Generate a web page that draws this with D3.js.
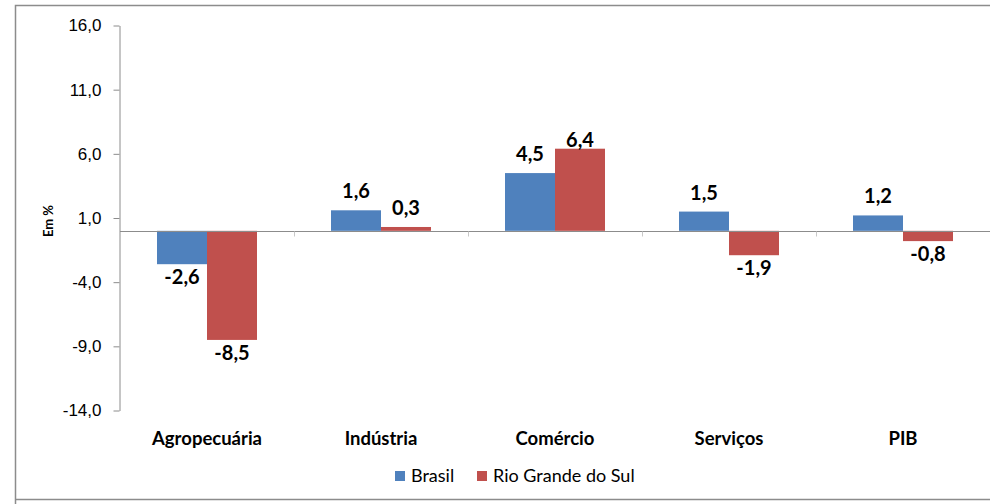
<!DOCTYPE html>
<html>
<head>
<meta charset="utf-8">
<script src="https://cdn.jsdelivr.net/npm/d3@7"></script>
<style>
  body { margin: 0; background: #fff; }
  svg { font-family: Lato, 'Open Sans', sans-serif; }
</style>
</head>
<body>
<svg id="chart" width="990" height="504"></svg>
<script>
var categories = ['Agropecuária', 'Indústria', 'Comércio', 'Serviços', 'PIB'];
var seriesNames = ['Brasil', 'Rio Grande do Sul'];
var brasil = [-2.6, 1.6, 4.5, 1.5, 1.2];
var rioGrande = [-8.5, 0.3, 6.4, -1.9, -0.8];
var yTicks = [16, 11, 6, 1, -4, -9, -14];
var colors = ['#4F81BD', '#C0504D'];

var svg = d3.select('#chart');
// comma decimals, plain hyphen for minus
var fmt = d => d.toFixed(1).replace('.', ',');

// outer frame
svg.append('path')
  .attr('d', 'M15.5,504 V5.5 H990 M15.5,499.5 H990')
  .attr('fill', 'none')
  .attr('stroke', '#8c8c8c')
  .attr('stroke-width', 1.5);

var x0 = d3.scaleBand()
  .domain(categories)
  .range([120, 990])
  .paddingInner(74 / 174)
  .paddingOuter(37 / 174);

var x1 = d3.scaleBand()
  .domain(seriesNames)
  .range([0, x0.bandwidth()]);

var y = d3.scaleLinear()
  .domain([-14, 16])
  .range([410.5, 25.5]);

// y axis
var yAxis = d3.axisLeft(y).tickValues(yTicks).tickFormat(fmt).tickSize(6).tickSizeOuter(0);
var gy = svg.append('g').attr('transform', 'translate(119.5,0)').call(yAxis);
gy.select('.domain').attr('stroke', '#8c8c8c');
gy.selectAll('.tick line').attr('stroke', '#8c8c8c');
gy.selectAll('.tick text')
  .attr('x', -18)
  .attr('fill', '#000')
  .style('font-size', '17px');

// y label
svg.append('text')
  .attr('transform', 'translate(53,221) rotate(-90)')
  .attr('text-anchor', 'middle')
  .style('font-size', '13px')
  .style('font-weight', 'bold')
  .text('Em %');

var data = categories.map((c, i) => ({ cat: c, values: [brasil[i], rioGrande[i]] }));

var groups = svg.selectAll('.grp')
  .data(data)
  .enter()
  .append('g')
  .attr('class', 'grp')
  .attr('transform', d => `translate(${x0(d.cat)},0)`);

groups.selectAll('rect')
  .data(d => d.values.map((v, j) => ({ v: v, s: seriesNames[j], j: j })))
  .enter()
  .append('rect')
  .attr('x', d => x1(d.s))
  .attr('width', x1.bandwidth())
  .attr('y', d => Math.min(y(d.v), y(0)))
  .attr('height', d => Math.abs(y(d.v) - y(0)))
  .attr('fill', d => colors[d.j]);

// the 6,4 label sits almost on its bar in the original
var nudge = { 'Comércio|Rio Grande do Sul': 10 };

groups.selectAll('.lbl')
  .data(d => d.values.map((v, j) => ({ v: v, s: seriesNames[j], key: d.cat + '|' + seriesNames[j] })))
  .enter()
  .append('text')
  .attr('class', 'lbl')
  .attr('x', d => x1(d.s) + x1.bandwidth() / 2)
  .attr('y', d => (d.v >= 0 ? y(d.v) - 12 : y(d.v) + 20) + (nudge[d.key] || 0))
  .attr('text-anchor', 'middle')
  .style('font-size', '20px')
  .style('font-weight', 'bold')
  .text(d => fmt(d.v));

// zero line with category ticks
var zy = Math.round(y(0)) + 0.5;
svg.append('line')
  .attr('x1', 120).attr('x2', 990)
  .attr('y1', zy).attr('y2', zy)
  .attr('stroke', '#8c8c8c');
var bounds = categories.slice(1).map(c => x0(c) - x0.step() * x0.paddingInner() / 2);
svg.selectAll('.ctick')
  .data(bounds)
  .enter()
  .append('line')
  .attr('x1', d => Math.round(d) + 0.5).attr('x2', d => Math.round(d) + 0.5)
  .attr('y1', zy).attr('y2', zy + 5)
  .attr('stroke', '#c8c8c8');

// category labels
svg.selectAll('.cat')
  .data(categories)
  .enter()
  .append('text')
  .attr('x', d => x0(d) + x0.bandwidth() / 2)
  .attr('y', 445)
  .attr('text-anchor', 'middle')
  .style('font-size', '18.5px')
  .style('font-weight', 'bold')
  .text(d => d);

// legend
var legend = svg.append('g').attr('transform', 'translate(395,471)');
var lx = [0, 82];
seriesNames.forEach((s, i) => {
  legend.append('rect')
    .attr('x', lx[i]).attr('y', 0)
    .attr('width', 10).attr('height', 10)
    .attr('fill', colors[i]);
  legend.append('text')
    .attr('x', lx[i] + 16).attr('y', 11)
    .style('font-size', '18px')
    .text(s);
});
</script>
</body>
</html>
